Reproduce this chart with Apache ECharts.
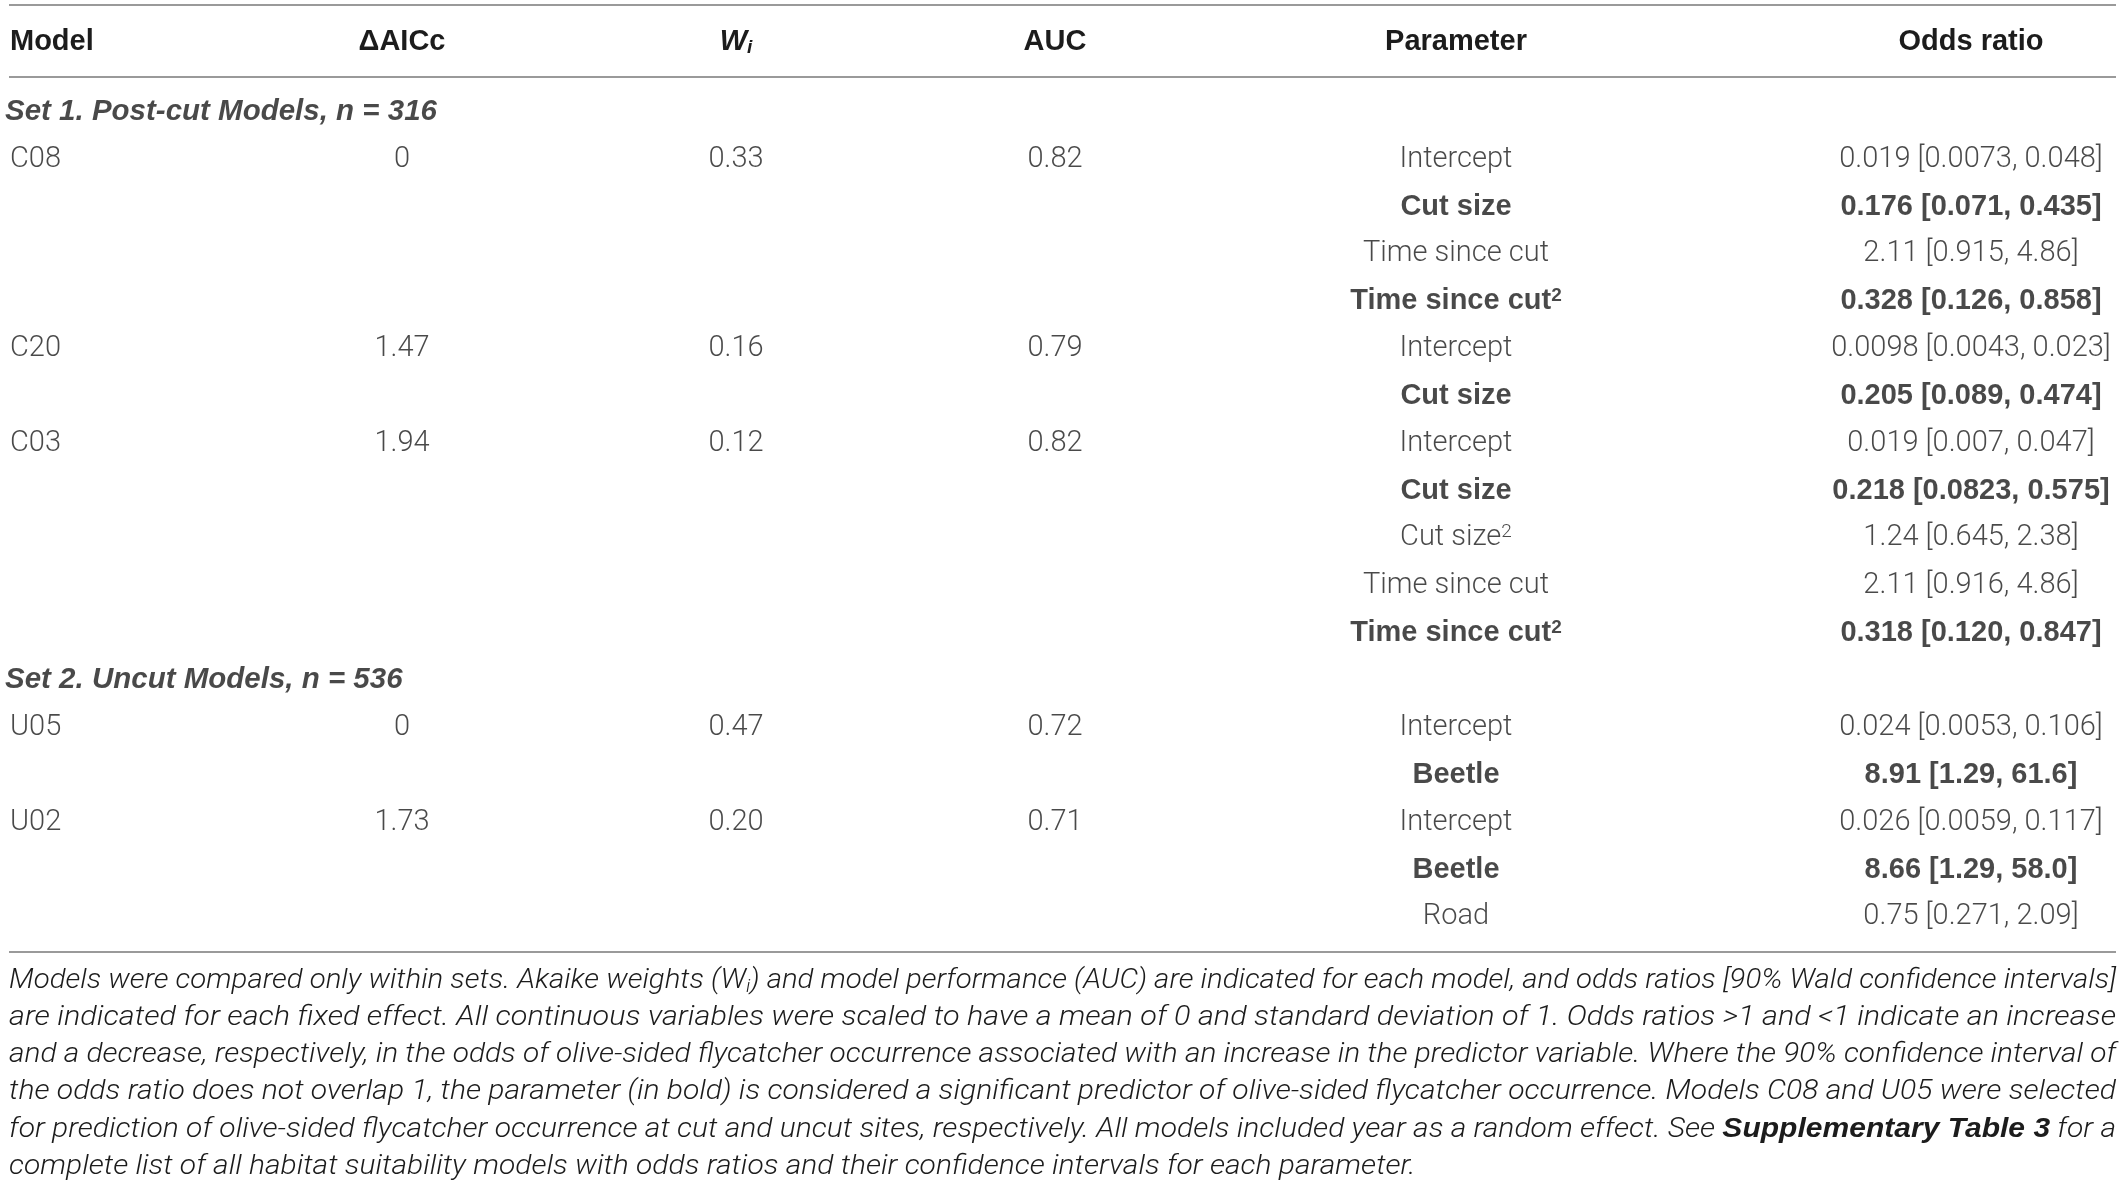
<!DOCTYPE html>
<html>
<head>
<meta charset="utf-8">
<script src="https://cdn.jsdelivr.net/npm/echarts@6.0.0/dist/echarts.min.js"></script>
<style>
html, body { margin: 0; padding: 0; background: #fff; }
#container { width: 2124px; height: 1188px; }
</style>
</head>
<body>
<div id="container"></div>
<script>
var dom = document.getElementById("container");
var myChart = echarts.init(dom);

// table content
var columns = ['Model', 'ΔAICc', 'Wi', 'AUC', 'Parameter', 'Odds ratio'];
var setTitles = ['Set 1. Post-cut Models, n = 316', 'Set 2. Uncut Models, n = 536'];
var models = ['C08', 'C20', 'C03', 'U05', 'U02'];
var modelSet = [0, 0, 0, 1, 1];
var deltaAICc = [0, 1.47, 1.94, 0, 1.73];
var weights = ['0.33', '0.16', '0.12', '0.47', '0.20'];
var auc = ['0.82', '0.79', '0.82', '0.72', '0.71'];

// one entry per fixed effect
var paramModel = [0, 0, 0, 0, 1, 1, 2, 2, 2, 2, 2, 3, 3, 4, 4, 4];
var paramNames = ['Intercept', 'Cut size', 'Time since cut', 'Time since cut',
    'Intercept', 'Cut size',
    'Intercept', 'Cut size', 'Cut size', 'Time since cut', 'Time since cut',
    'Intercept', 'Beetle',
    'Intercept', 'Beetle', 'Road'];
var paramSquared = [false, false, false, true, false, false, false, false, true, false, true,
    false, false, false, false, false];
var oddsRatio = ['0.019', '0.176', '2.11', '0.328', '0.0098', '0.205', '0.019', '0.218', '1.24',
    '2.11', '0.318', '0.024', '8.91', '0.026', '8.66', '0.75'];
var ciLower = ['0.0073', '0.071', '0.915', '0.126', '0.0043', '0.089', '0.007', '0.0823', '0.645',
    '0.916', '0.120', '0.0053', '1.29', '0.0059', '1.29', '0.271'];
var ciUpper = ['0.048', '0.435', '4.86', '0.858', '0.023', '0.474', '0.047', '0.575', '2.38',
    '4.86', '0.847', '0.106', '61.6', '0.117', '58.0', '2.09'];

var footnote = [
    [['Models were compared only within sets. Akaike weights (W', 'f'], ['i', 'fsub'],
     [') and model performance (AUC) are indicated for each model, and odds ratios [90% Wald confidence intervals]', 'f']],
    [['are indicated for each fixed effect. All continuous variables were scaled to have a mean of 0 and standard deviation of 1. Odds ratios >1 and <1 indicate an increase', 'f']],
    [['and a decrease, respectively, in the odds of olive-sided flycatcher occurrence associated with an increase in the predictor variable. Where the 90% confidence interval of', 'f']],
    [['the odds ratio does not overlap 1, the parameter (in bold) is considered a significant predictor of olive-sided flycatcher occurrence. Models C08 and U05 were selected', 'f']],
    [['for prediction of olive-sided flycatcher occurrence at cut and uncut sites, respectively. All models included year as a random effect. See ', 'f'],
     ['Supplementary Table 3', 'fb'], [' for a', 'f']],
    [['complete list of all habitat suitability models with odds ratios and their confidence intervals for each parameter.', 'f']]
];

// layout
var W = 2124;
var LIGHT = 'Roboto';
var BOLD = '"Liberation Sans", Arial, sans-serif';
var INK = '#1c1c1c';
var colX = [10, 402, 736, 1055, 1456, 1971];
var colAlign = ['left', 'center', 'center', 'center', 'center', 'center'];
var setX = 5;
var rowTop = 112, rowStep = 47.35;
var ruleY = [5, 77, 952];
var headerY = 42;
var footY = 981, footStep = 37.2, footSize = 27;

function colCenter(i) {
    return (i + 0.5) * W / columns.length;
}

function significant(k) {
    return paramNames[k] !== 'Intercept' &&
        (parseFloat(ciUpper[k]) < 1 || parseFloat(ciLower[k]) > 1);
}

// build rows + cells
var rows = [];
var cells = [[], [], [], [], [], []];
var setCells = [];
for (var s = 0; s < setTitles.length; s++) {
    rows.push('set' + s);
    setCells.push({ value: [0, rows.length - 1], text: '{st|' + setTitles[s] + '}' });
    for (var m = 0; m < models.length; m++) {
        if (modelSet[m] !== s) continue;
        var first = true;
        for (var k = 0; k < paramModel.length; k++) {
            if (paramModel[k] !== m) continue;
            rows.push('p' + k);
            var r = rows.length - 1;
            if (first) {
                cells[0].push({ value: [0, r], text: '{n|' + models[m] + '}' });
                cells[1].push({ value: [1, r], text: '{n|' + deltaAICc[m] + '}' });
                cells[2].push({ value: [2, r], text: '{n|' + weights[m] + '}' });
                cells[3].push({ value: [3, r], text: '{n|' + auc[m] + '}' });
                first = false;
            }
            var st = significant(k) ? 'b' : 'n';
            cells[4].push({ value: [4, r],
                text: '{' + st + '|' + paramNames[k] + '}' + (paramSquared[k] ? '{' + st + 's|2}' : '') });
            cells[5].push({ value: [5, r],
                text: '{' + st + '|' + oddsRatio[k] + ' [' + ciLower[k] + ', ' + ciUpper[k] + ']}' });
        }
    }
}

var cellRich = {
    n: { fontFamily: LIGHT, fontWeight: 300, fontSize: 29, color: INK, lineHeight: 30 },
    b: { fontFamily: BOLD, fontWeight: 'bold', fontSize: 29, color: INK, lineHeight: 30 },
    ns: { fontFamily: LIGHT, fontWeight: 300, fontSize: 19, color: INK, lineHeight: 17, verticalAlign: 'top' },
    bs: { fontFamily: BOLD, fontWeight: 'bold', fontSize: 19, color: INK, lineHeight: 17, verticalAlign: 'top' },
    st: { fontFamily: BOLD, fontWeight: 'bold', fontStyle: 'italic', fontSize: 29.5, color: INK, lineHeight: 30 }
};

function cellSeries(data, x, align, col) {
    return {
        type: 'scatter',
        data: data,
        symbolSize: 1,
        itemStyle: { color: 'rgba(0,0,0,0)' },
        silent: true,
        label: {
            show: true,
            position: 'inside',
            align: align,
            verticalAlign: 'middle',
            offset: [x - colCenter(col), 0],
            formatter: function (p) { return p.data.text; },
            rich: cellRich
        }
    };
}

var series = [cellSeries(setCells, setX, 'left', 0)];
for (var c = 0; c < columns.length; c++) {
    series.push(cellSeries(cells[c], colX[c], colAlign[c], c));
}

// header, rules and footnote as graphics
var headRich = {
    h: { fontFamily: BOLD, fontWeight: 'bold', fontSize: 29, fill: INK, lineHeight: 30 },
    hi: { fontFamily: BOLD, fontWeight: 'bold', fontStyle: 'italic', fontSize: 29, fill: INK, lineHeight: 30 },
    hsub: { fontFamily: BOLD, fontWeight: 'bold', fontStyle: 'italic', fontSize: 19, fill: INK, lineHeight: 14, verticalAlign: 'bottom' }
};
var graphics = [];
columns.forEach(function (name, i) {
    var txt = name === 'Wi' ? '{hi|W}{hsub|i}' : '{h|' + name + '}';
    graphics.push({
        type: 'text', x: colX[i], y: headerY, silent: true,
        style: { text: txt, rich: headRich, align: colAlign[i], verticalAlign: 'middle' }
    });
});
ruleY.forEach(function (y) {
    graphics.push({
        type: 'line', silent: true,
        shape: { x1: 9, y1: y, x2: 2116, y2: y },
        style: { stroke: '#9a9a9a', lineWidth: 2 }
    });
});

var footFonts = {
    f: 'italic 300 ' + footSize + 'px Roboto',
    fsub: 'italic 300 ' + Math.round(footSize * 0.65) + 'px Roboto',
    fb: 'italic bold ' + footSize + 'px "Liberation Sans"'
};
var footRich = {
    f: { fontFamily: LIGHT, fontWeight: 300, fontStyle: 'italic', fontSize: footSize, fill: INK, lineHeight: 30 },
    fsub: { fontFamily: LIGHT, fontWeight: 300, fontStyle: 'italic', fontSize: Math.round(footSize * 0.65), fill: INK, lineHeight: 12, verticalAlign: 'bottom' },
    fb: { fontFamily: 'Liberation Sans', fontWeight: 'bold', fontStyle: 'italic', fontSize: footSize, fill: INK, lineHeight: 30 }
};
var ctx = document.createElement('canvas').getContext('2d');
var scales = footnote.map(function (line) {
    var w = 0;
    line.forEach(function (seg) { ctx.font = footFonts[seg[1]]; w += ctx.measureText(seg[0]).width; });
    return 2107 / w;
});
var avgScale = (scales[0] + scales[1] + scales[2] + scales[3] + scales[4]) / 5;
footnote.forEach(function (line, i) {
    var txt = line.map(function (seg) { return '{' + seg[1] + '|' + seg[0].replace(/[{}]/g, '') + '}'; }).join('');
    graphics.push({
        type: 'text', x: 9, y: footY + i * footStep, silent: true,
        scaleX: i < footnote.length - 1 ? scales[i] : avgScale,
        style: { text: txt, rich: footRich, align: 'left', verticalAlign: 'middle' }
    });
});

var nRows = rows.length;
var option = {
    animation: false,
    backgroundColor: '#fff',
    grid: {
        left: 0,
        right: 0,
        top: rowTop - rowStep / 2,
        height: rowStep * nRows
    },
    xAxis: { type: 'category', data: columns, show: false },
    yAxis: { type: 'category', data: rows, inverse: true, show: false },
    series: series,
    graphic: { elements: graphics }
};

myChart.setOption(option);
</script>
</body>
</html>
